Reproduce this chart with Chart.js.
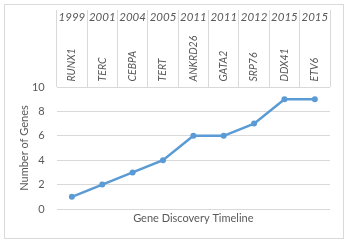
<!DOCTYPE html>
<html>
<head>
<meta charset="utf-8">
<script src="https://cdn.jsdelivr.net/npm/chart.js@4/dist/chart.umd.min.js"></script>
<style>
  html, body { margin: 0; padding: 0; background: #ffffff; }
  #wrap { position: relative; width: 348px; height: 243px; }
</style>
</head>
<body>
<div id="wrap"><canvas id="c" width="348" height="243"></canvas></div>
<script>
const years = ['1999', '2001', '2004', '2005', '2011', '2011', '2012', '2015', '2015'];
const genes = ['RUNX1', 'TERC', 'CEBPA', 'TERT', 'ANKRD26', 'GATA2', 'SRP76', 'DDX41', 'ETV6'];
const geneCounts = [1, 2, 3, 4, 6, 6, 7, 9, 9];
const yMin = 0, yMax = 10, yStep = 2;
const xTitle = 'Gene Discovery Timeline';
const yTitle = 'Number of Genes';

const textColor = '#595959';
const gridColor = '#d9d9d9';
const lineColor = '#5b9bd5';
const FONT = 'Lato, "Liberation Sans", sans-serif';

const frame = {
  id: 'frame',
  beforeDraw(chart) {
    const ctx = chart.ctx;
    ctx.save();
    ctx.fillStyle = '#ffffff';
    ctx.fillRect(0, 0, chart.width, chart.height);
    ctx.strokeStyle = gridColor;
    ctx.lineWidth = 1;
    ctx.strokeRect(4.5, 4.5, chart.width - 9, chart.height - 9);
    ctx.restore();
  }
};

new Chart(document.getElementById('c'), {
  type: 'line',
  data: {
    labels: genes,
    datasets: [{
      data: geneCounts,
      xAxisID: 'x',
      yAxisID: 'y',
      borderColor: lineColor,
      backgroundColor: lineColor,
      borderWidth: 2.5,
      pointRadius: 3,
      pointBackgroundColor: lineColor,
      pointBorderColor: lineColor,
      pointBorderWidth: 0,
      tension: 0,
      fill: false
    }]
  },
  options: {
    responsive: false,
    animation: false,
    devicePixelRatio: 1,
    layout: { padding: { top: 10, left: 18, right: 18, bottom: 18 } },
    plugins: { legend: { display: false }, tooltip: { enabled: false } },
    scales: {
      x: {
        type: 'category',
        position: 'bottom',
        offset: true,
        grid: { display: false, drawTicks: false },
        border: { display: false },
        ticks: { display: false },
        title: {
          display: true, text: xTitle, color: textColor,
          font: { family: FONT, size: 11 }, padding: { top: 0, bottom: 0 }
        },
        afterFit(s) { s.height = 16; }
      },
      x2: {
        type: 'category',
        position: 'top',
        labels: genes,
        offset: true,
        weight: 0,
        grid: { offset: true, drawOnChartArea: false, drawTicks: true, tickLength: 77, color: gridColor, lineWidth: 1 },
        border: { display: false },
        ticks: {
          minRotation: 90, maxRotation: 90, autoSkip: false, padding: -71.5, labelOffset: 12.6,
          color: textColor, font: { family: FONT, size: 10.5, style: 'italic' }
        },
        afterFit(s) { s.height = 60; }
      },
      x3: {
        type: 'category',
        position: 'top',
        labels: years,
        offset: true,
        weight: 1,
        grid: { display: false, drawTicks: false },
        border: { display: false },
        ticks: {
          maxRotation: 0, minRotation: 0, autoSkip: false, padding: 2.4,
          color: textColor, font: { family: FONT, size: 11.5, style: 'italic' }
        },
        afterFit(s) { s.height = 17; }
      },
      y: {
        min: yMin, max: yMax,
        ticks: { stepSize: yStep, padding: 12, color: textColor, font: { family: FONT, size: 11 } },
        grid: { color: gridColor, lineWidth: 1, drawTicks: false },
        border: { display: false },
        title: {
          display: true, text: yTitle, color: textColor,
          font: { family: FONT, size: 11 }, padding: { top: 0, bottom: 0 }
        },
        afterFit(s) { s.width = 38.7; }
      }
    }
  },
  plugins: [frame]
});
</script>
</body>
</html>
